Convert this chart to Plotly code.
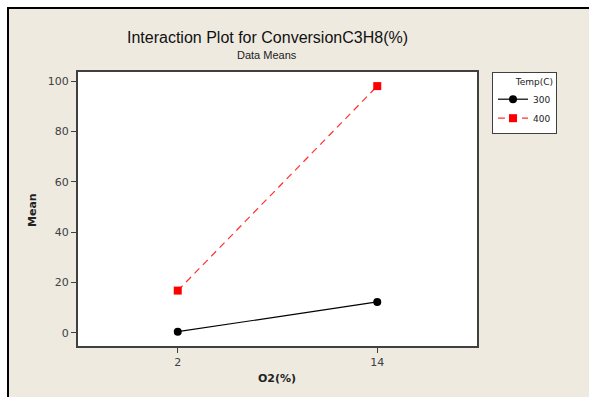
import plotly.graph_objects as go

# Interaction plot data: mean conversion by O2 level for each temperature
o2_levels = [2, 14]
temp_labels = ["300", "400"]
mean_300 = [0.5, 12.3]
mean_400 = [16.8, 98.0]

y_ticks = [0, 20, 40, 60, 80, 100]

W, H = 589, 397
L, R, T, B = 78, 112, 72, 51
pw, ph = W - L - R, H - T - B


def px_x(p):
    return (p - L) / pw


def px_y(p):
    return (H - B - p) / ph


bg = "#EEEAE0"
axis_col = "#404040"
sans = "DejaVu Sans, Verdana, sans-serif"
title_font = "Liberation Sans, Arial, sans-serif"

fig = go.Figure()
fig.add_trace(go.Scatter(
    x=o2_levels, y=mean_300, name=temp_labels[0], mode="lines+markers",
    line=dict(color="black", width=1.2),
    marker=dict(symbol="circle", size=8, color="black"),
))
fig.add_trace(go.Scatter(
    x=o2_levels, y=mean_400, name=temp_labels[1], mode="lines+markers",
    line=dict(color="#FF3030", width=1.2, dash="7px,5px"),
    marker=dict(symbol="square", size=8, color="#FF0000"),
))

shapes = [
    # white strip above and left of the framed panel
    dict(type="rect", xref="paper", yref="paper", x0=px_x(0), x1=px_x(W),
         y0=px_y(7), y1=px_y(0), fillcolor="white", line_width=0, layer="below"),
    dict(type="rect", xref="paper", yref="paper", x0=px_x(0), x1=px_x(7),
         y0=px_y(H), y1=px_y(0), fillcolor="white", line_width=0, layer="below"),
    # black frame edges
    dict(type="line", xref="paper", yref="paper", x0=px_x(7), x1=px_x(W),
         y0=px_y(8), y1=px_y(8), line=dict(color="black", width=2)),
    dict(type="line", xref="paper", yref="paper", x0=px_x(8), x1=px_x(8),
         y0=px_y(7), y1=px_y(H), line=dict(color="black", width=2)),
]

fig.update_layout(
    width=W, height=H,
    margin=dict(l=L, r=R, t=T, b=B),
    paper_bgcolor=bg, plot_bgcolor="white",
    font=dict(family=sans, color="#222222"),
    shapes=shapes,
    showlegend=True,
    legend=dict(
        x=px_x(492), y=px_y(72), xanchor="left", yanchor="top",
        bgcolor="white", bordercolor=axis_col, borderwidth=1,
        font=dict(size=9, color="#222222", family=sans),
        title=dict(text="Temp(C)", side="top right", font=dict(size=9)),
        tracegroupgap=0, itemwidth=30,
    ),
    annotations=[
        dict(text="Interaction Plot for ConversionC3H8(%)", xref="paper", yref="paper",
             x=px_x(267), y=px_y(37), xanchor="center", yanchor="middle",
             showarrow=False, font=dict(size=16, color="#111111", family=title_font)),
        dict(text="Data Means", xref="paper", yref="paper",
             x=px_x(267), y=px_y(55), xanchor="center", yanchor="middle",
             showarrow=False, font=dict(size=11, color="#222222", family=title_font)),
        dict(text="<b>Mean</b>", xref="paper", yref="paper",
             x=px_x(33), y=px_y(210), xanchor="center", yanchor="middle",
             textangle=-90, showarrow=False, font=dict(size=11, color="#222222")),
        dict(text="<b>O2(%)</b>", xref="paper", yref="paper",
             x=px_x(277), y=px_y(378), xanchor="center", yanchor="middle",
             showarrow=False, font=dict(size=11, color="#222222")),
    ],
)

fig.update_xaxes(
    range=[-4, 20], tickvals=o2_levels, ticktext=[str(v) for v in o2_levels],
    ticks="outside", ticklen=5, tickcolor=axis_col, tickwidth=1,
    showline=True, linecolor=axis_col, linewidth=2, mirror=True,
    showgrid=False, zeroline=False,
    tickfont=dict(size=11, color="#404040"),
)
fig.update_yaxes(
    range=[-5.2, 103.6], tickvals=y_ticks,
    ticks="outside", ticklen=5, tickcolor=axis_col, tickwidth=1,
    showline=True, linecolor=axis_col, linewidth=2, mirror=True,
    showgrid=False, zeroline=False,
    tickfont=dict(size=11, color="#404040"),
)

fig.write_html("out.html")
